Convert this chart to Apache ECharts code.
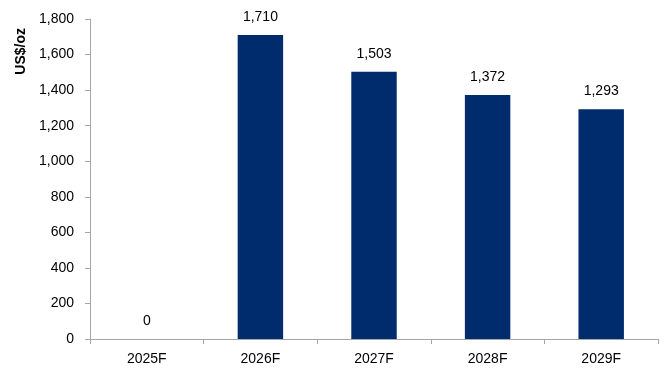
<!DOCTYPE html>
<html>
<head>
<meta charset="utf-8">
<style>
  html, body { margin: 0; padding: 0; background: #fff; }
  #chart { width: 667px; height: 371px; }
</style>
<script src="https://cdn.jsdelivr.net/npm/echarts@6/dist/echarts.min.js"></script>
</head>
<body>
<div id="chart"></div>
<script>
// Forecast years and price values (US$/oz)
const categories = ['2025F', '2026F', '2027F', '2028F', '2029F'];
const prices = [0, 1710, 1503, 1372, 1293];
const yTicks = { min: 0, max: 1800, interval: 200 };

const chart = echarts.init(document.getElementById('chart'), null, { renderer: 'canvas' });
const font = '"Liberation Sans", Arial, sans-serif';
const axisColor = '#a6a6a6';

chart.setOption({
  animation: false,
  backgroundColor: '#ffffff',
  grid: { left: 90, right: 9, top: 19, bottom: 32, containLabel: false },
  xAxis: {
    type: 'category',
    data: categories,
    boundaryGap: true,
    axisLine: { lineStyle: { color: axisColor, width: 1 } },
    axisTick: { show: true, alignWithLabel: false, length: 5, lineStyle: { color: axisColor } },
    axisLabel: { color: '#000', fontFamily: font, fontSize: 14, margin: 13 }
  },
  yAxis: {
    type: 'value',
    min: yTicks.min,
    max: yTicks.max,
    interval: yTicks.interval,
    axisLine: { show: true, lineStyle: { color: axisColor, width: 1 } },
    axisTick: { show: true, length: 5, lineStyle: { color: axisColor } },
    splitLine: { show: false },
    axisLabel: {
      color: '#000', fontFamily: font, fontSize: 14, margin: 16,
      formatter: v => v.toLocaleString('en-US')
    }
  },
  graphic: [{
    type: 'text',
    left: 14,
    top: 28,
    rotation: Math.PI / 2,
    style: {
      text: 'US$/oz',
      fill: '#000',
      font: 'bold 14px ' + font
    }
  }],
  series: [{
    type: 'bar',
    data: prices,
    barWidth: '40%',
    itemStyle: { color: '#002b6c' },
    label: {
      show: true,
      position: 'top',
      distance: 11,
      color: '#000',
      fontFamily: font,
      fontSize: 14,
      formatter: p => p.value.toLocaleString('en-US')
    }
  }]
});
</script>
</body>
</html>
